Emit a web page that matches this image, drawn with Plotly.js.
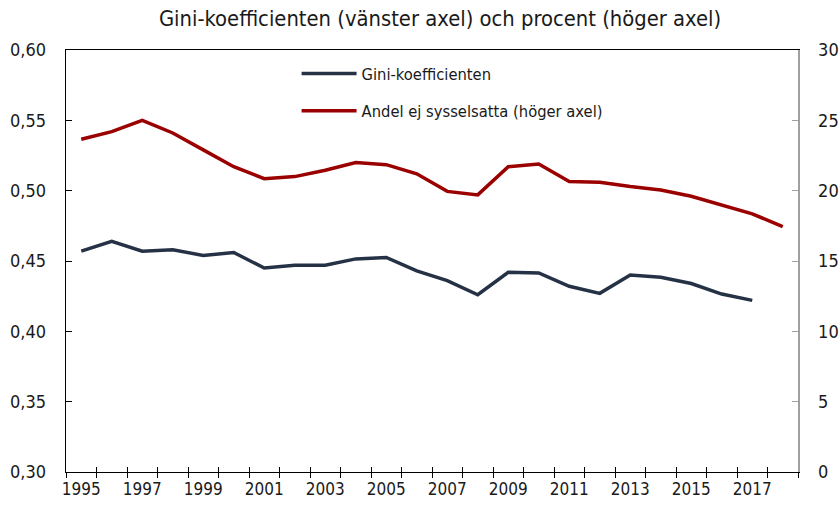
<!DOCTYPE html>
<html><head><meta charset="utf-8">
<script src="https://cdn.plot.ly/plotly-3.0.1.min.js"></script>
<style>body{margin:0;background:#fff}#c{width:839px;height:508px}</style>
</head><body><div id="c"></div>
<script>
const years = [1995,1996,1997,1998,1999,2000,2001,2002,2003,2004,2005,2006,2007,2008,2009,2010,2011,2012,2013,2014,2015,2016,2017,2018];
const giniYears = years.slice(0, 23);
const gini = [0.457,0.464,0.457,0.458,0.454,0.456,0.445,0.447,0.447,0.4515,0.4525,0.443,0.436,0.426,0.442,0.4415,0.432,0.427,0.440,0.4385,0.434,0.4265,0.422];
const andel = [23.65,24.2,25.0,24.1,22.9,21.7,20.85,21.0,21.45,22.0,21.85,21.2,19.95,19.7,21.7,21.9,20.65,20.6,20.3,20.05,19.6,19.0,18.35,17.45];
const labelYears = [1995,1997,1999,2001,2003,2005,2007,2009,2011,2013,2015,2017];
const title = 'Gini-koefficienten (vänster axel) och procent (höger axel)';
const nameGini = 'Gini-koefficienten';
const nameAndel = 'Andel ej sysselsatta (höger axel)';

const FONT = '"Liberation Sans Narrow", "DejaVu Sans Condensed", sans-serif';
const bounds = years.map(y => y - 0.5).concat([years[years.length-1] + 0.5]);
const xr = [bounds[0], bounds[bounds.length-1]];

const traces = [
  {x: giniYears, y: gini, name: nameGini, type: 'scatter', mode: 'lines',
   line: {color: '#253246', width: 3.5}, xaxis: 'x', yaxis: 'y', legendgroup: 'a'},
  {x: years, y: andel, name: nameAndel, type: 'scatter', mode: 'lines',
   line: {color: '#9b0000', width: 3.5}, xaxis: 'x', yaxis: 'y2', legendgroup: 'b'},
  {x: [], y: [], xaxis: 'x2', yaxis: 'y', showlegend: false, hoverinfo: 'skip'},
  {x: [], y: [], xaxis: 'x3', yaxis: 'y', showlegend: false, hoverinfo: 'skip'}
];

const layout = {
  width: 839, height: 508,
  margin: {l: 66, r: 41, t: 50, b: 36},
  paper_bgcolor: '#fff', plot_bgcolor: '#fff',
  separators: ',.',
  font: {family: FONT, size: 17, color: '#1a1a1a'},
  title: {text: title, font: {family: FONT, size: 21.8, color: '#1a1a1a'}, xref: 'container', x: 0.5245, xanchor: 'center', y: 0.978, yanchor: 'top'},
  showlegend: true,
  legend: {x: 0.315, y: 0.985, xanchor: 'left', yanchor: 'top', bgcolor: 'rgba(0,0,0,0)',
           font: {family: FONT, size: 16.4, color: '#1a1a1a'}, itemwidth: 55, tracegroupgap: 13},
  xaxis: {range: xr, tickmode: 'array', tickvals: bounds, ticktext: bounds.map(() => ''),
          ticks: 'outside', ticklen: 5, tickcolor: '#000', tickwidth: 1,
          showline: true, linecolor: '#000', linewidth: 1.3, mirror: true,
          showgrid: false, zeroline: false, fixedrange: true},
  xaxis2: {range: xr, overlaying: 'x', anchor: 'y', side: 'bottom', tickmode: 'array', tickvals: bounds,
           showticklabels: false, ticks: 'inside', ticklen: 5, tickcolor: '#000', tickwidth: 1,
           showline: false, showgrid: false, zeroline: false},
  xaxis3: {range: xr, overlaying: 'x', anchor: 'y', side: 'bottom', tickmode: 'array', tickvals: labelYears,
           ticktext: labelYears.map(String), ticks: '', showline: false, showgrid: false, zeroline: false,
           tickfont: {family: FONT, size: 17, color: '#1a1a1a'}, ticklabelstandoff: 5},
  yaxis: {range: [0.30, 0.60], tickmode: 'linear', tick0: 0.30, dtick: 0.05, tickformat: '.2f',
          ticks: 'inside', ticklen: 6, tickcolor: '#000', showline: true, linecolor: '#000', linewidth: 1.3,
          showgrid: false, zeroline: false, ticklabelstandoff: 15,
          tickfont: {family: FONT, size: 18, color: '#1a1a1a'}},
  yaxis2: {range: [0, 30], overlaying: 'y', side: 'right', anchor: 'x', tickmode: 'linear', tick0: 0, dtick: 5,
           ticks: 'inside', ticklen: 6, tickcolor: '#a0a0a0', showline: true, linecolor: '#a0a0a0', linewidth: 1.5,
           showgrid: false, zeroline: false, ticklabelstandoff: 15,
           tickfont: {family: FONT, size: 18, color: '#1a1a1a'}}
};
Plotly.newPlot('c', traces, layout, {staticPlot: true});
</script></body></html>
